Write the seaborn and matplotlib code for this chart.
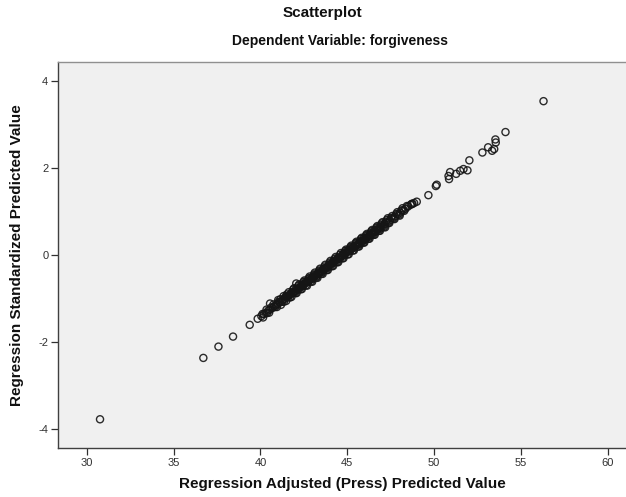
import numpy as np
import pandas as pd
import matplotlib
matplotlib.use('Agg')
import matplotlib.pyplot as plt
import seaborn as sns

# Regression Adjusted (Press) Predicted Value
adj_pred = [
    30.76, 36.71, 37.58, 38.42, 39.38, 39.84,
    40.05, 40.2, 40.3, 40.45, 40.55, 40.55, 40.7, 40.8, 40.9, 41.0,
    41.1, 41.2, 41.3, 41.4, 41.5, 41.55, 41.65, 41.75, 41.85, 41.9,
    42.0, 42.06, 42.1, 42.15, 42.25, 42.3, 42.4, 42.5, 42.55, 42.65,
    42.7, 42.8, 42.9, 42.95, 43.05, 43.1, 43.2, 43.3, 43.35, 43.45,
    43.5, 43.6, 43.7, 43.75, 43.85, 43.9, 44.0, 44.1, 44.15, 44.25,
    44.3, 44.4, 44.5, 44.55, 44.65, 44.7, 44.8, 44.9, 44.95, 45.05,
    45.1, 45.2, 45.3, 45.35, 45.45, 45.5, 45.6, 45.7, 45.8, 45.9,
    46.0, 46.1, 46.2, 46.3, 46.4, 46.5, 46.6, 46.7, 46.8, 46.9,
    47.0, 47.15, 47.3, 47.45, 47.6, 47.75, 47.9, 48.05, 48.2, 48.35,
    48.43, 48.5, 48.65, 48.71, 48.75, 48.85, 49.0,
    49.67, 50.10, 50.15, 50.83, 50.86, 50.92, 51.27, 51.50, 51.69,
    51.92, 52.03, 52.78, 53.11, 53.34, 53.46, 53.53, 53.55, 54.11, 56.30,
]

# Regression Standardized Predicted Value
std_pred = [
    -3.78, -2.37, -2.11, -1.88, -1.61, -1.47,
    -1.41, -1.36, -1.34, -1.28, -1.26, -1.12, -1.22, -1.18, -1.15, -1.13,
    -1.09, -1.07, -1.03, -1.01, -0.97, -0.96, -0.93, -0.90, -0.87, -0.86,
    -0.83, -0.66, -0.80, -0.78, -0.75, -0.74, -0.71, -0.68, -0.66, -0.63,
    -0.62, -0.59, -0.56, -0.54, -0.51, -0.50, -0.47, -0.44, -0.43, -0.40,
    -0.38, -0.35, -0.32, -0.31, -0.28, -0.26, -0.23, -0.20, -0.19, -0.16,
    -0.14, -0.11, -0.08, -0.07, -0.04, -0.02, 0.01, 0.04, 0.05, 0.08,
    0.10, 0.12, 0.16, 0.17, 0.20, 0.21, 0.24, 0.27, 0.30, 0.33,
    0.36, 0.39, 0.42, 0.45, 0.48, 0.51, 0.54, 0.57, 0.60, 0.63,
    0.66, 0.71, 0.75, 0.79, 0.84, 0.88, 0.93, 0.97, 1.02, 1.06,
    1.12, 1.11, 1.15, 1.17, 1.17, 1.19, 1.22,
    1.37, 1.58, 1.61, 1.81, 1.74, 1.90, 1.86, 1.93, 1.97,
    1.94, 2.17, 2.35, 2.47, 2.39, 2.43, 2.65, 2.58, 2.82, 3.53,
]

# extra cases inside the dense band (40 - 48.3)
band_adj = [
    40.12, 40.38, 40.62, 40.85, 41.05, 41.25, 41.45, 41.6, 41.8, 41.95,
    42.05, 42.2, 42.35, 42.45, 42.6, 42.75, 42.85, 43.0, 43.15, 43.25,
    43.4, 43.55, 43.65, 43.8, 43.95, 44.05, 44.2, 44.35, 44.45, 44.6,
    44.75, 44.85, 45.0, 45.15, 45.25, 45.4, 45.55, 45.65, 45.75, 45.85,
    45.95, 46.05, 46.15, 46.25, 46.35, 46.45, 46.55, 46.65, 46.75, 46.85,
    46.95, 47.08, 47.22, 47.38, 47.52, 47.68, 47.82, 47.98, 48.12, 48.28,
    40.15, 40.35, 40.5, 40.75, 40.95, 41.15, 41.35, 41.52, 41.7, 41.88,
    42.02, 42.18, 42.32, 42.48, 42.62, 42.78, 42.92, 43.08, 43.22, 43.38,
    43.52, 43.68, 43.82, 43.98, 44.12, 44.28, 44.42, 44.58, 44.72, 44.88,
    45.02, 45.18, 45.32, 45.48, 45.62, 45.78, 45.92, 46.08, 46.22, 46.38,
    46.52, 46.68, 46.82, 46.98, 47.12, 47.28, 47.42, 47.58, 47.72, 47.88,
    48.02, 48.18,
    41.02, 41.18, 41.33, 41.48, 41.63, 41.78, 41.93, 42.08, 42.23, 42.38,
    42.53, 42.68, 42.83, 42.98, 43.13, 43.28, 43.43, 43.58, 43.73, 43.88,
    44.03, 44.18, 44.33, 44.48, 44.63, 44.78, 44.93, 45.08, 45.23, 45.38,
    45.53, 45.68, 45.83, 45.98, 46.13, 46.28, 46.43, 46.58, 46.73, 46.88,
    47.03, 47.18, 47.33,
]
band_std = [
    -1.36, -1.34, -1.21, -1.20, -1.08, -1.08, -0.96, -0.98, -0.86, -0.87,
    -0.78, -0.80, -0.69, -0.72, -0.62, -0.63, -0.54, -0.56, -0.46, -0.49,
    -0.38, -0.40, -0.31, -0.32, -0.22, -0.25, -0.14, -0.16, -0.07, -0.08,
    0.02, -0.01, 0.10, 0.08, 0.17, 0.16, 0.26, 0.23, 0.32, 0.29,
    0.38, 0.35, 0.44, 0.41, 0.50, 0.47, 0.56, 0.53, 0.62, 0.59,
    0.68, 0.66, 0.76, 0.74, 0.85, 0.83, 0.94, 0.92, 1.02, 1.01,
    -1.44, -1.26, -1.33, -1.14, -1.20, -1.02, -1.08, -0.91, -0.98, -0.80,
    -0.88, -0.71, -0.79, -0.62, -0.70, -0.54, -0.61, -0.45, -0.52, -0.36,
    -0.43, -0.27, -0.35, -0.18, -0.26, -0.09, -0.17, 0.00, -0.08, 0.09,
    0.01, 0.18, 0.10, 0.27, 0.19, 0.36, 0.28, 0.45, 0.37, 0.54,
    0.46, 0.63, 0.55, 0.72, 0.64, 0.80, 0.73, 0.89, 0.82, 0.98,
    0.90, 1.07,
    -1.04, -1.15, -0.95, -1.06, -0.86, -0.97, -0.77, -0.88, -0.68, -0.79,
    -0.59, -0.71, -0.50, -0.62, -0.41, -0.53, -0.32, -0.44, -0.23, -0.35,
    -0.14, -0.26, -0.05, -0.17, 0.04, -0.08, 0.12, 0.01, 0.21, 0.10,
    0.30, 0.19, 0.39, 0.28, 0.48, 0.37, 0.57, 0.46, 0.66, 0.55,
    0.75, 0.63, 0.84,
]

x_ticks = [30, 35, 40, 45, 50, 55, 60]
y_ticks = [-4, -2, 0, 2, 4]

df = pd.DataFrame({'adj': adj_pred + band_adj, 'std': std_pred + band_std})

sns.set_theme(style='white')
plt.rcParams['font.family'] = ['Liberation Sans', 'DejaVu Sans']
plt.rcParams['axes.unicode_minus'] = False

fig = plt.figure(figsize=(6.26, 4.97), dpi=100)
ax = fig.add_axes([58 / 626, 49 / 497, (626 - 58) / 626, (448 - 62) / 497])
ax.set_facecolor('#f0f0f0')

sns.scatterplot(data=df, x='adj', y='std', ax=ax, s=26,
                facecolor='none', edgecolor='#151515', linewidth=1.0, alpha=0.9)

ax.set_xlim(28.34, 61.05)
ax.set_ylim(-4.44, 4.43)
ax.set_xticks(x_ticks)
ax.set_yticks(y_ticks)
ax.tick_params(axis='both', direction='out', length=5, width=0.9,
               color='#303030', labelsize=8, labelcolor='#303030', pad=2)
ax.tick_params(axis='x', bottom=True)
ax.tick_params(axis='y', left=True)

for side in ['left', 'bottom']:
    ax.spines[side].set_color('#404040')
    ax.spines[side].set_linewidth(1.0)
ax.spines['top'].set_color('#909090')
ax.spines['top'].set_linewidth(1.0)
ax.spines['right'].set_visible(False)

ax.set_xlabel('Regression Adjusted (Press) Predicted Value', fontsize=11,
              fontweight='bold', color='#101010', labelpad=7)
ax.set_ylabel('Regression Standardized Predicted Value', fontsize=11,
              fontweight='bold', color='#101010', labelpad=10)

fig.text(322 / 626, 1 - 13 / 497, 'Scatterplot', ha='center', va='center',
         fontsize=11, fontweight='bold', color='#101010')
fig.text(340 / 626, 1 - 41 / 497, 'Dependent Variable: forgiveness', ha='center',
         va='center', fontsize=10, fontweight='bold', color='#101010')

fig.savefig('out.png', dpi=100, facecolor='white')
